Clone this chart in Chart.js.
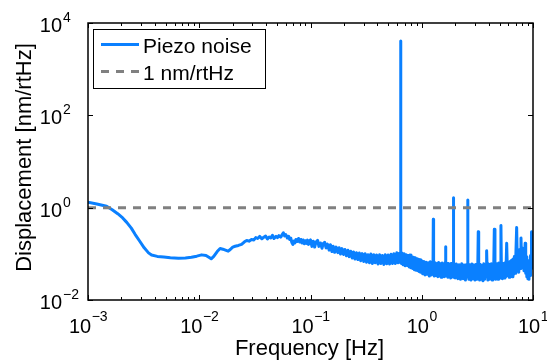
<!DOCTYPE html>
<html><head><meta charset="utf-8">
<script src="https://cdn.jsdelivr.net/npm/chart.js@4"></script>
<style>html,body{margin:0;padding:0;background:#fff;}canvas{display:block;}</style>
</head><body>
<canvas id="c" width="547" height="364"></canvas>
<script>
// ---- data ----
const freqHz = [
  0.00100,0.00120,0.00147,0.00165,0.00185,0.00205,0.00223,0.00245,0.00265,0.00293,
  0.00320,0.00350,0.00373,0.00420,0.00480,0.00550,0.00650,0.00750,0.00850,0.00950,
  0.01050,0.01150,0.01220,0.01280,0.01350,0.01450,0.01540,0.01630,0.01720,0.01820,
  0.01900,0.02000,0.02100,0.02250,0.02400,
  0.0255,0.0267,0.0280,0.0295,0.0310,0.0322,0.0335,0.0350,0.0365,0.0380,
  0.0395,0.0410,0.0425,0.0440,0.0455,0.0470,0.0490,0.0505,0.0520,0.0540,
  0.0557,0.0570,0.0585,0.0600,0.0620,0.0635,0.0650,0.0665,0.0680,0.0695,
  0.0710,0.0725,0.0740,0.0760,0.0780,0.0800,0.0820,0.0840,0.0860,0.0880,
  0.0900,0.0920,0.0940,0.0960,0.0980,
  0.100,0.103,0.106,0.109,0.112,0.116,0.119,0.123,0.127,0.130,
  0.134,0.138,0.142,0.147,0.151,0.156,0.160,0.165,0.170,0.176,
  0.181,0.186,0.192,0.198,0.204,0.210,0.217,0.223,0.230,0.237,
  0.244,0.251,0.259,0.267,0.275,0.283,0.292,0.301,0.310,0.319,
  0.329,0.339,0.349,0.360,0.371,0.382,0.393,0.405,0.418,0.430,
  0.443,0.457,0.470,0.485,0.499,0.514,0.530,0.546,0.562,0.579,
  0.597,0.612,0.625,0.636,0.643,0.646,0.649,0.655,
  0.665,0.680,0.695,0.710,0.725,0.740,0.755,0.770,0.785,0.800,
  0.815,0.830,0.845,0.860,0.875,0.890,0.905,0.920,0.935,0.950,
  0.965,0.980,0.995,
  1.020,1.045,1.070,1.095,1.120,1.145,1.170,1.195,1.220,1.245,
  1.262,1.270,1.278,1.295,1.320,1.345,1.370,1.395,1.420,1.445,
  1.470,1.495,1.520,1.545,1.570,1.595,1.620,1.635,1.642,1.650,
  1.670,1.695,1.720,1.745,1.770,1.795,1.820,1.845,1.870,1.895,
  1.912,1.920,1.928,1.945,1.970,1.995,
  2.05,2.11,2.17,2.23,2.29,2.35,2.41,2.47,2.53,2.58,
  2.59,2.60,2.65,2.71,2.77,2.83,2.89,2.95,3.01,3.07,
  3.13,3.19,3.22,3.25,3.31,3.37,3.43,3.49,3.55,3.61,
  3.67,3.73,3.79,3.83,3.87,3.93,3.99,4.05,4.11,4.17,
  4.23,4.29,4.35,4.42,4.49,4.55,4.61,4.67,4.73,4.79,
  4.85,4.91,4.97,
  5.05,5.10,5.15,5.20,5.30,5.40,5.50,5.60,5.70,5.80,
  5.90,6.00,6.10,6.20,6.30,6.40,6.50,6.60,6.70,6.80,
  6.90,7.00,7.13,7.25,7.35,7.45,7.55,7.65,7.80,7.90,
  8.00,8.10,8.20,8.30,8.40,8.50,8.60,8.70,8.80,8.90,
  9.00,9.10,9.20,9.30,9.40,9.50,9.60,9.70,9.80,9.90,
  10.0
];
const piezoNoise = [
  1.31,1.20,1.07,0.90,0.74,0.60,0.48,0.36,0.265,0.185,
  0.135,0.105,0.094,0.088,0.085,0.082,0.080,0.081,0.084,0.089,
  0.095,0.092,0.084,0.078,0.088,0.112,0.130,0.126,0.120,0.114,
  0.124,0.140,0.146,0.152,0.160,
  0.182,0.195,0.188,0.205,0.200,0.225,0.215,0.238,0.212,0.228,
  0.242,0.210,0.232,0.222,0.252,0.215,0.240,0.225,0.248,0.230,
  0.262,0.285,0.245,0.262,0.220,0.240,0.205,0.218,0.175,0.160,
  0.190,0.172,0.205,0.185,0.215,0.180,0.205,0.172,0.200,0.165,
  0.192,0.168,0.198,0.160,0.188,
  0.200,0.145,0.188,0.140,0.180,0.195,0.145,0.172,0.132,0.166,
  0.178,0.134,0.162,0.120,0.158,0.112,0.146,0.108,0.140,0.106,
  0.136,0.099,0.130,0.097,0.124,0.091,0.120,0.087,0.114,0.081,
  0.110,0.077,0.106,0.075,0.104,0.071,0.101,0.068,0.100,0.066,
  0.096,0.064,0.099,0.062,0.096,0.064,0.094,0.060,0.096,0.062,
  0.092,0.059,0.096,0.061,0.094,0.060,0.098,0.062,0.100,0.062,
  0.106,0.064,0.102,0.066,0.090,4100,0.088,0.062,
  0.104,0.058,0.100,0.055,0.096,0.056,0.092,0.052,0.094,0.050,
  0.086,0.048,0.084,0.045,0.082,0.044,0.078,0.043,0.076,0.041,
  0.074,0.040,0.072,
  0.037,0.068,0.035,0.066,0.036,0.064,0.033,0.067,0.035,0.062,
  0.045,0.56,0.045,0.033,0.064,0.034,0.062,0.032,0.065,0.033,
  0.061,0.031,0.063,0.033,0.060,0.032,0.064,0.060,0.143,0.070,
  0.033,0.062,0.031,0.061,0.032,0.060,0.030,0.062,0.032,0.059,
  0.045,1.64,0.045,0.031,0.060,0.030,
  0.060,0.029,0.058,0.028,0.061,0.029,0.057,0.027,0.059,0.040,
  1.47,0.040,0.028,0.058,0.027,0.060,0.029,0.057,0.027,0.059,
  0.028,0.055,0.30,0.045,0.027,0.059,0.028,0.056,0.026,0.061,
  0.028,0.058,0.045,0.117,0.045,0.027,0.060,0.028,0.058,0.029,
  0.061,0.027,0.059,0.029,0.34,0.040,0.028,0.061,0.029,0.059,
  0.028,0.063,0.030,
  0.060,0.045,0.41,0.045,0.029,0.062,0.030,0.064,0.032,0.17,
  0.034,0.066,0.031,0.068,0.033,0.072,0.032,0.077,0.036,0.087,
  0.038,0.082,0.37,0.043,0.112,0.040,0.122,0.048,0.22,0.058,
  0.132,0.052,0.102,0.043,0.092,0.17,0.038,0.087,0.032,0.072,
  0.029,0.062,0.028,0.072,0.034,0.092,0.048,0.30,0.058,0.122,
  0.075
];
const referenceLevel = 1;            // nm/rtHz
const seriesLabels = ['Piezo noise', '1 nm/rtHz'];
const xTickExponents = [-3, -2, -1, 0, 1];
const yTickExponents = [-2, 0, 2, 4];
const xTitle = 'Frequency [Hz]';
const yTitle = 'Displacement [nm/rtHz]';

// ---- drawing ----
const FONT = '"Liberation Sans", Arial, Helvetica, sans-serif';
const xMin = Math.pow(10, xTickExponents[0]);
const xMax = Math.pow(10, xTickExponents[xTickExponents.length - 1]);
const yMin = Math.pow(10, yTickExponents[0]);
const yMax = Math.pow(10, yTickExponents[yTickExponents.length - 1]);

function powLabel(exp) {
  return { base: '10', sup: exp < 0 ? '\u2212' + (-exp) : String(exp) };
}

const matlabAxes = {
  id: 'matlabAxes',
  afterDatasetsDraw(chart) {
    const { ctx, chartArea: a, scales: { x, y } } = chart;
    ctx.save();
    // inward ticks on all sides
    ctx.strokeStyle = '#000';
    ctx.lineWidth = 1;
    ctx.beginPath();
    for (let e = xTickExponents[0]; e <= xTickExponents[xTickExponents.length - 1]; e++) {
      for (let m = 1; m <= 9; m++) {
        const v = m * Math.pow(10, e);
        if (v > xMax * 1.0001) break;
        const px = Math.round(x.getPixelForValue(v)) + 0.5;
        const len = m === 1 ? 5 : 3;
        ctx.moveTo(px, a.bottom); ctx.lineTo(px, a.bottom - len);
        ctx.moveTo(px, a.top); ctx.lineTo(px, a.top + len);
      }
    }
    yTickExponents.forEach(e => {
      const py = Math.round(y.getPixelForValue(Math.pow(10, e))) + 0.5;
      ctx.moveTo(a.left, py); ctx.lineTo(a.left + 5, py);
      ctx.moveTo(a.right, py); ctx.lineTo(a.right - 5, py);
    });
    ctx.stroke();
    // box
    ctx.lineWidth = 1.5;
    ctx.strokeRect(a.left, a.top, a.right - a.left, a.bottom - a.top);

    // tick labels
    ctx.fillStyle = '#000';
    ctx.textBaseline = 'alphabetic';
    ctx.textAlign = 'left';
    xTickExponents.forEach(e => {
      const { base, sup } = powLabel(e);
      const px = x.getPixelForValue(Math.pow(10, e));
      ctx.font = '20px ' + FONT; const bw = ctx.measureText(base).width;
      ctx.font = '14px ' + FONT; const sw = ctx.measureText(sup).width;
      const start = px - (bw + sw) / 2;
      ctx.font = '20px ' + FONT; ctx.fillText(base, start, a.bottom + 33);
      ctx.font = '14px ' + FONT; ctx.fillText(sup, start + bw + 0.5, a.bottom + 21);
    });
    yTickExponents.forEach(e => {
      const { base, sup } = powLabel(e);
      const py = y.getPixelForValue(Math.pow(10, e));
      ctx.font = '20px ' + FONT; const bw = ctx.measureText(base).width;
      const right = a.left - 26;
      ctx.fillText(base, right - bw, py + 9);
      ctx.font = '14px ' + FONT; ctx.fillText(sup, right + 1, py - 1);
    });

    // axis titles
    ctx.font = '22px ' + FONT;
    ctx.textAlign = 'center';
    ctx.fillText(xTitle, (a.left + a.right) / 2 - 1, a.bottom + 55);
    ctx.save();
    ctx.translate(31, (a.top + a.bottom) / 2 - 4);
    ctx.rotate(-Math.PI / 2);
    ctx.fillText(yTitle, 0, 0);
    ctx.restore();

    // legend box (north-west, inside axes)
    const lx = a.left + 5, ly = a.top + 6, lw = 172, lh = 59;
    ctx.fillStyle = '#fff';
    ctx.fillRect(lx, ly, lw, lh);
    ctx.strokeStyle = '#000';
    ctx.lineWidth = 1;
    ctx.strokeRect(lx + 0.5, ly + 0.5, lw, lh);
    ctx.font = '21px ' + FONT;
    ctx.textAlign = 'left';
    chart.data.datasets.forEach((ds, i) => {
      const cy = ly + 15.5 + i * 27;
      ctx.save();
      ctx.strokeStyle = ds.borderColor;
      ctx.lineWidth = ds.borderWidth;
      ctx.setLineDash(ds.borderDash || []);
      ctx.beginPath();
      ctx.moveTo(lx + 8, cy); ctx.lineTo(lx + 46, cy);
      ctx.stroke();
      ctx.restore();
      ctx.fillStyle = '#000';
      ctx.fillText(ds.label, lx + 50, cy + 8);
    });
    ctx.restore();
  }
};

new Chart(document.getElementById('c'), {
  type: 'line',
  data: {
    datasets: [
      {
        label: seriesLabels[0],
        data: freqHz.map((f, i) => ({ x: f, y: piezoNoise[i] })),
        borderColor: '#0a80ff',
        borderWidth: 3,
        pointRadius: 0,
        tension: 0,
        fill: false,
        borderJoinStyle: 'round',
        order: 2
      },
      {
        label: seriesLabels[1],
        data: [{ x: xMin, y: referenceLevel }, { x: xMax, y: referenceLevel }],
        borderColor: '#808080',
        borderWidth: 3,
        borderDash: [8, 7],
        pointRadius: 0,
        fill: false,
        order: 1
      }
    ]
  },
  options: {
    responsive: false,
    animation: false,
    devicePixelRatio: 1,
    layout: { padding: { left: 88, right: 14, top: 23, bottom: 64 } },
    scales: {
      x: { type: 'logarithmic', min: xMin, max: xMax, display: false },
      y: { type: 'logarithmic', min: yMin, max: yMax, display: false }
    },
    plugins: { legend: { display: false }, tooltip: { enabled: false } }
  },
  plugins: [matlabAxes]
});
</script>
</body></html>
